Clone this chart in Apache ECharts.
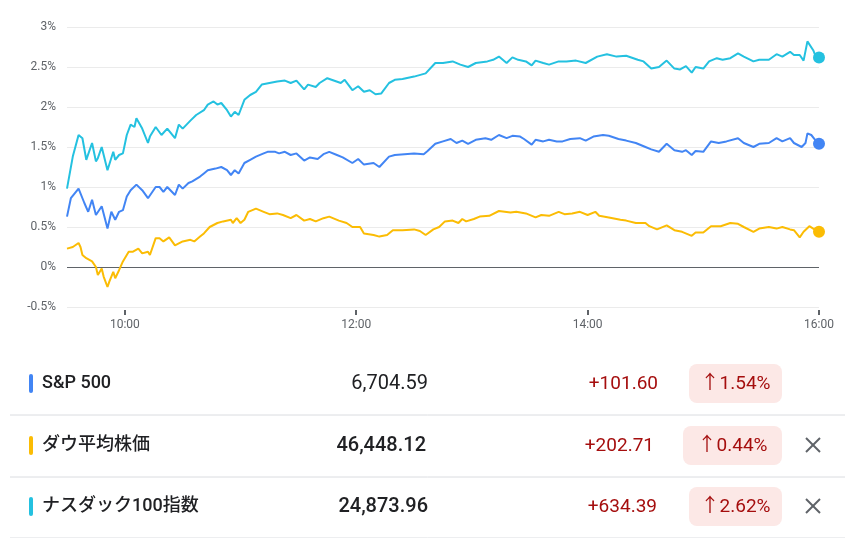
<!DOCTYPE html>
<html>
<head>
<meta charset="utf-8">
<script src="https://cdn.jsdelivr.net/npm/echarts@6.0.0/dist/echarts.min.js"></script>
<style>
html,body{margin:0;padding:0;background:#fff;}
#c{width:845px;height:538px;}
</style>
</head>
<body>
<div id="c"></div>
<script>
// ---- data ----
const xTickTimes = ['10:00', '12:00', '14:00', '16:00'];

const spTimes = ['09:30','09:32','09:34','09:36','09:37','09:39','09:41','09:43','09:45','09:46','09:48','09:51','09:53','09:55','09:57','09:59','10:01','10:03','10:06','10:09','10:12','10:16','10:18','10:20','10:22','10:26','10:28','10:30','10:33','10:35','10:39','10:41','10:43','10:47','10:50','10:53','10:55','10:57','10:59','11:02','11:05','11:08','11:12','11:14','11:18','11:20','11:23','11:26','11:29','11:33','11:36','11:40','11:43','11:46','11:50','11:53','11:58','12:01','12:04','12:09','12:12','12:17','12:20','12:25','12:30','12:35','12:37','12:41','12:45','12:49','12:52','12:55','12:58','13:02','13:07','13:10','13:14','13:18','13:21','13:25','13:27','13:31','13:33','13:37','13:40','13:44','13:47','13:51','13:56','13:59','14:03','14:08','14:11','14:16','14:20','14:25','14:30','14:33','14:37','14:41','14:45','14:49','14:51','14:54','14:56','15:00','15:04','15:08','15:12','15:18','15:21','15:26','15:29','15:34','15:38','15:41','15:45','15:47','15:51','15:53','15:54','15:56','15:58','16:00'];
const spValues = [0.63,0.86,0.92,0.98,0.96,0.80,0.69,0.84,0.65,0.67,0.76,0.48,0.69,0.59,0.69,0.71,0.88,0.96,1.03,0.96,0.86,1.00,1.00,0.94,1.00,0.90,1.03,0.98,1.05,1.07,1.13,1.17,1.21,1.23,1.25,1.21,1.15,1.21,1.17,1.30,1.34,1.38,1.42,1.44,1.44,1.42,1.44,1.40,1.42,1.33,1.37,1.35,1.41,1.44,1.40,1.37,1.30,1.35,1.28,1.30,1.25,1.38,1.40,1.41,1.42,1.41,1.45,1.54,1.57,1.60,1.55,1.58,1.54,1.59,1.61,1.59,1.65,1.61,1.64,1.63,1.60,1.53,1.59,1.57,1.59,1.57,1.57,1.60,1.61,1.58,1.63,1.65,1.64,1.60,1.58,1.55,1.50,1.47,1.44,1.54,1.46,1.44,1.46,1.40,1.45,1.44,1.57,1.55,1.57,1.61,1.55,1.50,1.54,1.55,1.61,1.57,1.61,1.55,1.50,1.55,1.67,1.65,1.59,1.54];

const dowTimes = ['09:30','09:33','09:36','09:37','09:38','09:40','09:43','09:45','09:46','09:48','09:49','09:51','09:52','09:54','09:55','09:57','09:59','10:02','10:04','10:07','10:09','10:12','10:13','10:16','10:18','10:20','10:23','10:26','10:30','10:34','10:36','10:39','10:41','10:44','10:48','10:51','10:55','10:56','10:58','11:00','11:02','11:04','11:08','11:12','11:15','11:19','11:22','11:26','11:29','11:33','11:36','11:39','11:43','11:46','11:51','11:55','11:58','12:02','12:04','12:09','12:12','12:16','12:19','12:24','12:30','12:33','12:36','12:40','12:43','12:46','12:50','12:53','12:55','12:57','13:01','13:04','13:09','13:14','13:20','13:23','13:28','13:33','13:36','13:40','13:45','13:48','13:52','13:56','14:00','14:04','14:06','14:11','14:17','14:20','14:25','14:30','14:32','14:36','14:41','14:45','14:49','14:54','14:56','15:00','15:04','15:09','15:14','15:18','15:21','15:26','15:29','15:34','15:38','15:41','15:45','15:47','15:50','15:52','15:55','15:57','16:00'];
const dowValues = [0.23,0.25,0.30,0.25,0.15,0.11,0.07,0.00,-0.10,-0.02,-0.12,-0.25,-0.18,-0.06,-0.14,-0.04,0.07,0.19,0.19,0.23,0.17,0.19,0.15,0.36,0.36,0.32,0.37,0.27,0.32,0.34,0.32,0.38,0.42,0.50,0.55,0.57,0.59,0.55,0.61,0.55,0.59,0.69,0.73,0.69,0.66,0.67,0.65,0.61,0.65,0.58,0.60,0.57,0.61,0.63,0.58,0.55,0.50,0.50,0.42,0.40,0.38,0.40,0.46,0.46,0.47,0.45,0.40,0.47,0.50,0.57,0.58,0.55,0.60,0.57,0.60,0.63,0.64,0.70,0.68,0.69,0.67,0.62,0.65,0.64,0.69,0.66,0.67,0.69,0.65,0.69,0.64,0.62,0.59,0.58,0.55,0.55,0.51,0.47,0.52,0.46,0.44,0.39,0.43,0.43,0.51,0.51,0.55,0.54,0.50,0.44,0.48,0.50,0.48,0.50,0.47,0.46,0.37,0.44,0.51,0.48,0.44];

const nasTimes = ['09:30','09:33','09:36','09:38','09:40','09:43','09:45','09:46','09:48','09:51','09:54','09:55','09:57','09:59','10:01','10:03','10:05','10:06','10:09','10:12','10:13','10:16','10:19','10:22','10:26','10:28','10:30','10:34','10:37','10:41','10:43','10:46','10:48','10:50','10:53','10:55','10:57','10:59','11:02','11:05','11:08','11:11','11:15','11:19','11:23','11:26','11:29','11:33','11:35','11:39','11:41','11:45','11:46','11:52','11:54','11:58','12:01','12:04','12:07','12:10','12:13','12:17','12:20','12:24','12:30','12:36','12:41','12:45','12:50','12:54','12:58','13:02','13:08','13:11','13:14','13:18','13:21','13:24','13:28','13:31','13:33','13:37','13:40','13:45','13:49','13:54','13:59','14:05','14:10','14:15','14:20','14:26','14:29','14:33','14:37','14:41','14:45','14:48','14:51','14:54','14:56','15:00','15:03','15:07','15:10','15:14','15:18','15:21','15:26','15:29','15:34','15:38','15:41','15:45','15:47','15:50','15:52','15:53','15:54','15:55','15:57','15:58','16:00'];
const nasValues = [0.98,1.38,1.65,1.61,1.34,1.55,1.32,1.36,1.50,1.21,1.44,1.34,1.40,1.42,1.65,1.78,1.75,1.86,1.73,1.55,1.63,1.75,1.65,1.73,1.61,1.78,1.73,1.83,1.90,1.96,2.03,2.07,2.03,2.05,1.96,1.88,1.94,1.90,2.09,2.15,2.19,2.28,2.30,2.32,2.33,2.30,2.33,2.22,2.28,2.25,2.30,2.36,2.37,2.30,2.34,2.21,2.26,2.19,2.21,2.16,2.17,2.30,2.34,2.35,2.38,2.42,2.55,2.55,2.57,2.53,2.50,2.55,2.57,2.59,2.63,2.55,2.62,2.59,2.57,2.52,2.58,2.55,2.53,2.57,2.57,2.58,2.55,2.63,2.66,2.63,2.64,2.59,2.57,2.48,2.50,2.58,2.48,2.47,2.51,2.43,2.50,2.48,2.57,2.61,2.59,2.61,2.67,2.63,2.57,2.59,2.59,2.66,2.63,2.69,2.65,2.65,2.58,2.58,2.82,2.80,2.71,2.65,2.62];

const rowNames = ['S&P 500', 'ダウ平均株価', 'ナスダック100指数'];
const rowPrices = ['6,704.59', '46,448.12', '24,873.96'];
const rowChanges = ['+101.60', '+202.71', '+634.39'];
const rowPercents = ['1.54%', '0.44%', '2.62%'];
const rowRemovable = [false, true, true];

// ---- styles ----
const COLORS = ['#4285f4', '#fbbc04', '#24c1e0'];
const FONT = 'Roboto, "Noto Sans CJK JP", "Noto Sans", sans-serif';

function toMin(t) {
  const [h, m] = t.split(':').map(Number);
  return (h * 60 + m) - (9 * 60 + 30);
}
function fromMin(v) {
  const tot = v + 9 * 60 + 30;
  const h = Math.floor(tot / 60), m = tot % 60;
  return h + ':' + String(m).padStart(2, '0');
}
function pairs(times, vals) {
  return times.map((t, i) => [toMin(t), vals[i]]);
}

const seriesDefs = [
  { name: 'S&P 500', data: pairs(spTimes, spValues), color: COLORS[0] },
  { name: 'ダウ平均株価', data: pairs(dowTimes, dowValues), color: COLORS[1] },
  { name: 'ナスダック100指数', data: pairs(nasTimes, nasValues), color: COLORS[2] }
];

const tickMins = xTickTimes.map(toMin);

const series = seriesDefs.map(s => {
  const last = s.data.length - 1;
  return {
    type: 'line',
    name: s.name,
    data: s.data,
    color: s.color,
    showSymbol: true,
    showAllSymbol: true,
    symbol: 'circle',
    symbolSize: (v, p) => (p.dataIndex === last ? 12 : 0),
    lineStyle: { width: 2, color: s.color },
    itemStyle: { color: s.color },
    z: 3,
    silent: true
  };
});

// ---- table (graphic) ----
const rowCenters = [383, 445, 506];
const priceRight = [428, 426, 428];
const changeRight = [658, 654, 657];
const badgeBox = [[689, 93], [683, 99], [689, 93]];
const graphics = [];
rowCenters.forEach((cy, i) => {
  graphics.push({
    type: 'rect', shape: { x: 29, y: cy - 9, width: 4, height: 19, r: 2 },
    style: { fill: COLORS[i] }
  });
  graphics.push({
    type: 'text', x: 42, y: cy,
    style: { text: rowNames[i], font: '500 18px ' + FONT, fill: '#202124',
      textAlign: 'left', align: 'left', textVerticalAlign: 'middle', verticalAlign: 'middle' }
  });
  graphics.push({
    type: 'text', x: priceRight[i], y: cy + 1,
    style: { text: rowPrices[i], font: (i === 0 ? '400' : '500') + ' 20px ' + FONT, fill: '#202124',
      textAlign: 'right', align: 'right', textVerticalAlign: 'middle', verticalAlign: 'middle' }
  });
  graphics.push({
    type: 'text', x: changeRight[i], y: cy + 1,
    style: { text: rowChanges[i], font: '400 19px ' + FONT, fill: '#a50e0e',
      textAlign: 'right', align: 'right', textVerticalAlign: 'middle', verticalAlign: 'middle' }
  });
  const [bx, bw] = badgeBox[i];
  graphics.push({
    type: 'rect', shape: { x: bx, y: cy - 19, width: bw, height: 39, r: 8 },
    style: { fill: '#fce8e6' }
  });
  graphics.push({
    type: 'text', x: bx + bw / 2, y: cy + 1,
    style: { text: '↑' + rowPercents[i], font: '400 19px ' + FONT, fill: '#a50e0e',
      textAlign: 'center', align: 'center', textVerticalAlign: 'middle', verticalAlign: 'middle' }
  });
  if (rowRemovable[i]) {
    const cx = 813;
    graphics.push({ type: 'line', shape: { x1: cx - 7, y1: cy - 7, x2: cx + 7, y2: cy + 7 },
      style: { stroke: '#5f6368', lineWidth: 2 } });
    graphics.push({ type: 'line', shape: { x1: cx + 7, y1: cy - 7, x2: cx - 7, y2: cy + 7 },
      style: { stroke: '#5f6368', lineWidth: 2 } });
  }
  graphics.push({
    type: 'line', shape: { x1: 10, y1: cy + 32, x2: 845, y2: cy + 32 },
    style: { stroke: '#dadce0', lineWidth: 1 }
  });
});

const chart = echarts.init(document.getElementById('c'), null, { renderer: 'canvas' });
chart.setOption({
  animation: false,
  backgroundColor: '#ffffff',
  grid: { left: 67, right: 26, top: 27, bottom: 231, containLabel: false },
  xAxis: {
    type: 'value',
    min: 0,
    max: 390,
    offset: 3,
    axisLine: { show: false, onZero: false },
    splitLine: { show: false },
    axisTick: { show: true, customValues: tickMins, length: 5, lineStyle: { color: '#5f6368', width: 2 } },
    axisLabel: { customValues: tickMins, formatter: v => fromMin(v), color: '#5f6368',
      fontSize: 12, fontFamily: FONT, margin: 9 }
  },
  yAxis: {
    type: 'value',
    min: -0.5,
    max: 3,
    interval: 0.5,
    axisLine: { show: false },
    axisTick: { show: false },
    axisLabel: { formatter: v => v + '%', color: '#5f6368', fontSize: 12, fontFamily: FONT, margin: 11 },
    splitLine: { show: true, lineStyle: { width: 1,
      color: ['#ebebeb', '#5f6368', '#ebebeb', '#ebebeb', '#ebebeb', '#ebebeb', '#ebebeb', '#ebebeb'] } }
  },
  series: series,
  graphic: { elements: graphics }
});
</script>
</body>
</html>
